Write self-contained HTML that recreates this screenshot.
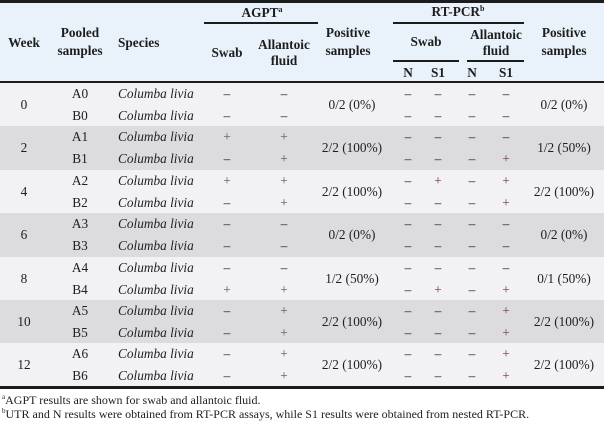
<!DOCTYPE html>
<html><head><meta charset="utf-8"><style>
html,body{margin:0;padding:0;}
body{width:604px;height:422px;position:relative;overflow:hidden;background:#fff;font-family:"Liberation Serif",serif;color:#1e1e1e;font-size:13.3px;}
.a{position:absolute;}
.c{position:absolute;width:120px;margin-left:-60px;text-align:center;line-height:16px;height:16px;margin-top:-8px;white-space:nowrap;}
.l{position:absolute;line-height:16px;height:16px;margin-top:-8px;white-space:nowrap;}
.b{font-weight:bold;}
.i{font-style:italic;}
.p{color:#555;}
.r{color:#7a2c55;}
sup{font-size:8px;vertical-align:top;line-height:8px;position:relative;top:1px;}
</style></head><body>
<div class="a" style="left:0;top:0;width:604px;height:82px;background:#e9f2fa;"></div>
<div class="a" style="left:0;top:0;width:604px;height:3px;background:#1c1c1c;"></div>
<div class="a" style="left:0;top:81px;width:604px;height:2px;background:#1c1c1c;"></div>
<div class="a" style="left:0;top:83px;width:604px;height:43.4px;background:#f2f2f4;"></div>
<div class="a" style="left:0;top:126.4px;width:604px;height:43.4px;background:#dcdcdf;"></div>
<div class="a" style="left:0;top:169.8px;width:604px;height:43.4px;background:#f2f2f4;"></div>
<div class="a" style="left:0;top:213.2px;width:604px;height:43.4px;background:#dcdcdf;"></div>
<div class="a" style="left:0;top:256.6px;width:604px;height:43.4px;background:#f2f2f4;"></div>
<div class="a" style="left:0;top:300px;width:604px;height:43.4px;background:#dcdcdf;"></div>
<div class="a" style="left:0;top:343.4px;width:604px;height:43.4px;background:#f2f2f4;"></div>
<div class="a" style="left:0;top:386px;width:604px;height:3px;background:#1c1c1c;"></div>
<!-- header lines -->
<div class="a" style="left:204px;top:22px;width:114px;height:2px;background:#1c1c1c;"></div>
<div class="a" style="left:393px;top:22px;width:131px;height:2px;background:#1c1c1c;"></div>
<div class="a" style="left:393px;top:60px;width:66px;height:2px;background:#1c1c1c;"></div>
<div class="a" style="left:467px;top:60px;width:57px;height:2px;background:#1c1c1c;"></div>
<!-- header text -->
<div class="c b" style="left:24px;top:43px;">Week</div>
<div class="c b" style="left:80px;top:33px;">Pooled</div>
<div class="c b" style="left:80px;top:51px;">samples</div>
<div class="l b" style="left:118px;top:43px;">Species</div>
<div class="c b" style="left:262px;top:13px;">AGPT<sup>a</sup></div>
<div class="c b" style="left:227px;top:53px;">Swab</div>
<div class="c b" style="left:284px;top:45px;">Allantoic</div>
<div class="c b" style="left:284px;top:61px;">fluid</div>
<div class="c b" style="left:348px;top:33px;">Positive</div>
<div class="c b" style="left:348px;top:51px;">samples</div>
<div class="c b" style="left:458px;top:12px;">RT-PCR<sup>b</sup></div>
<div class="c b" style="left:426px;top:42px;">Swab</div>
<div class="c b" style="left:496px;top:35px;">Allantoic</div>
<div class="c b" style="left:496px;top:51px;">fluid</div>
<div class="c b" style="left:408px;top:73px;">N</div>
<div class="c b" style="left:438px;top:73px;">S1</div>
<div class="c b" style="left:472px;top:73px;">N</div>
<div class="c b" style="left:506px;top:73px;">S1</div>
<div class="c b" style="left:564px;top:33px;">Positive</div>
<div class="c b" style="left:564px;top:51px;">samples</div>

<!-- Week 0 -->
<div class="c" style="left:24px;top:105px;">0</div>
<div class="c" style="left:80px;top:94px;">A0</div>
<div class="c" style="left:80px;top:116px;">B0</div>
<div class="l i" style="left:118px;top:94px;">Columba livia</div>
<div class="l i" style="left:118px;top:116px;">Columba livia</div>
<div class="c" style="left:227px;top:94px;">–</div><div class="c" style="left:284px;top:94px;">–</div>
<div class="c" style="left:227px;top:116px;">–</div><div class="c" style="left:284px;top:116px;">–</div>
<div class="c" style="left:352px;top:105px;">0/2 (0%)</div>
<div class="c" style="left:408px;top:94px;">–</div><div class="c" style="left:438px;top:94px;">–</div><div class="c" style="left:472px;top:94px;">–</div><div class="c" style="left:506px;top:94px;">–</div>
<div class="c" style="left:408px;top:116px;">–</div><div class="c" style="left:438px;top:116px;">–</div><div class="c" style="left:472px;top:116px;">–</div><div class="c" style="left:506px;top:116px;">–</div>
<div class="c" style="left:564px;top:105px;">0/2 (0%)</div>

<!-- Week 2 -->
<div class="c" style="left:24px;top:148px;">2</div>
<div class="c" style="left:80px;top:137px;">A1</div>
<div class="c" style="left:80px;top:159px;">B1</div>
<div class="l i" style="left:118px;top:137px;">Columba livia</div>
<div class="l i" style="left:118px;top:159px;">Columba livia</div>
<div class="c p" style="left:227px;top:137px;">+</div><div class="c p" style="left:284px;top:137px;">+</div>
<div class="c" style="left:227px;top:159px;">–</div><div class="c p" style="left:284px;top:159px;">+</div>
<div class="c" style="left:352px;top:148px;">2/2 (100%)</div>
<div class="c" style="left:408px;top:137px;">–</div><div class="c" style="left:438px;top:137px;">–</div><div class="c" style="left:472px;top:137px;">–</div><div class="c" style="left:506px;top:137px;">–</div>
<div class="c" style="left:408px;top:159px;">–</div><div class="c" style="left:438px;top:159px;">–</div><div class="c" style="left:472px;top:159px;">–</div><div class="c r" style="left:506px;top:159px;">+</div>
<div class="c" style="left:564px;top:148px;">1/2 (50%)</div>

<!-- Week 4 -->
<div class="c" style="left:24px;top:192px;">4</div>
<div class="c" style="left:80px;top:181px;">A2</div>
<div class="c" style="left:80px;top:203px;">B2</div>
<div class="l i" style="left:118px;top:181px;">Columba livia</div>
<div class="l i" style="left:118px;top:203px;">Columba livia</div>
<div class="c p" style="left:227px;top:181px;">+</div><div class="c p" style="left:284px;top:181px;">+</div>
<div class="c" style="left:227px;top:203px;">–</div><div class="c p" style="left:284px;top:203px;">+</div>
<div class="c" style="left:352px;top:192px;">2/2 (100%)</div>
<div class="c" style="left:408px;top:181px;">–</div><div class="c r" style="left:438px;top:181px;">+</div><div class="c" style="left:472px;top:181px;">–</div><div class="c r" style="left:506px;top:181px;">+</div>
<div class="c" style="left:408px;top:203px;">–</div><div class="c" style="left:438px;top:203px;">–</div><div class="c" style="left:472px;top:203px;">–</div><div class="c r" style="left:506px;top:203px;">+</div>
<div class="c" style="left:564px;top:192px;">2/2 (100%)</div>

<!-- Week 6 -->
<div class="c" style="left:24px;top:235px;">6</div>
<div class="c" style="left:80px;top:224px;">A3</div>
<div class="c" style="left:80px;top:246px;">B3</div>
<div class="l i" style="left:118px;top:224px;">Columba livia</div>
<div class="l i" style="left:118px;top:246px;">Columba livia</div>
<div class="c" style="left:227px;top:224px;">–</div><div class="c" style="left:284px;top:224px;">–</div>
<div class="c" style="left:227px;top:246px;">–</div><div class="c" style="left:284px;top:246px;">–</div>
<div class="c" style="left:352px;top:235px;">0/2 (0%)</div>
<div class="c" style="left:408px;top:224px;">–</div><div class="c" style="left:438px;top:224px;">–</div><div class="c" style="left:472px;top:224px;">–</div><div class="c" style="left:506px;top:224px;">–</div>
<div class="c" style="left:408px;top:246px;">–</div><div class="c" style="left:438px;top:246px;">–</div><div class="c" style="left:472px;top:246px;">–</div><div class="c" style="left:506px;top:246px;">–</div>
<div class="c" style="left:564px;top:235px;">0/2 (0%)</div>

<!-- Week 8 -->
<div class="c" style="left:24px;top:279px;">8</div>
<div class="c" style="left:80px;top:268px;">A4</div>
<div class="c" style="left:80px;top:290px;">B4</div>
<div class="l i" style="left:118px;top:268px;">Columba livia</div>
<div class="l i" style="left:118px;top:290px;">Columba livia</div>
<div class="c" style="left:227px;top:268px;">–</div><div class="c" style="left:284px;top:268px;">–</div>
<div class="c p" style="left:227px;top:290px;">+</div><div class="c p" style="left:284px;top:290px;">+</div>
<div class="c" style="left:352px;top:279px;">1/2 (50%)</div>
<div class="c" style="left:408px;top:268px;">–</div><div class="c" style="left:438px;top:268px;">–</div><div class="c" style="left:472px;top:268px;">–</div><div class="c" style="left:506px;top:268px;">–</div>
<div class="c" style="left:408px;top:290px;">–</div><div class="c r" style="left:438px;top:290px;">+</div><div class="c" style="left:472px;top:290px;">–</div><div class="c r" style="left:506px;top:290px;">+</div>
<div class="c" style="left:564px;top:279px;">0/1 (50%)</div>

<!-- Week 10 -->
<div class="c" style="left:24px;top:322px;">10</div>
<div class="c" style="left:80px;top:311px;">A5</div>
<div class="c" style="left:80px;top:333px;">B5</div>
<div class="l i" style="left:118px;top:311px;">Columba livia</div>
<div class="l i" style="left:118px;top:333px;">Columba livia</div>
<div class="c" style="left:227px;top:311px;">–</div><div class="c p" style="left:284px;top:311px;">+</div>
<div class="c" style="left:227px;top:333px;">–</div><div class="c p" style="left:284px;top:333px;">+</div>
<div class="c" style="left:352px;top:322px;">2/2 (100%)</div>
<div class="c" style="left:408px;top:311px;">–</div><div class="c" style="left:438px;top:311px;">–</div><div class="c" style="left:472px;top:311px;">–</div><div class="c r" style="left:506px;top:311px;">+</div>
<div class="c" style="left:408px;top:333px;">–</div><div class="c" style="left:438px;top:333px;">–</div><div class="c" style="left:472px;top:333px;">–</div><div class="c r" style="left:506px;top:333px;">+</div>
<div class="c" style="left:564px;top:322px;">2/2 (100%)</div>

<!-- Week 12 -->
<div class="c" style="left:24px;top:365px;">12</div>
<div class="c" style="left:80px;top:354px;">A6</div>
<div class="c" style="left:80px;top:376px;">B6</div>
<div class="l i" style="left:118px;top:354px;">Columba livia</div>
<div class="l i" style="left:118px;top:376px;">Columba livia</div>
<div class="c" style="left:227px;top:354px;">–</div><div class="c p" style="left:284px;top:354px;">+</div>
<div class="c" style="left:227px;top:376px;">–</div><div class="c p" style="left:284px;top:376px;">+</div>
<div class="c" style="left:352px;top:365px;">2/2 (100%)</div>
<div class="c" style="left:408px;top:354px;">–</div><div class="c" style="left:438px;top:354px;">–</div><div class="c" style="left:472px;top:354px;">–</div><div class="c r" style="left:506px;top:354px;">+</div>
<div class="c" style="left:408px;top:376px;">–</div><div class="c" style="left:438px;top:376px;">–</div><div class="c" style="left:472px;top:376px;">–</div><div class="c r" style="left:506px;top:376px;">+</div>
<div class="c" style="left:564px;top:365px;">2/2 (100%)</div>

<!-- footnotes -->
<div class="l" style="left:2px;top:400px;font-size:12px;"><sup style="font-size:7px;">a</sup>AGPT results are shown for swab and allantoic fluid.</div>
<div class="l" style="left:2px;top:414px;font-size:12px;"><sup style="font-size:7px;">b</sup>UTR and N results were obtained from RT-PCR assays, while S1 results were obtained from nested RT-PCR.</div>
</body></html>
